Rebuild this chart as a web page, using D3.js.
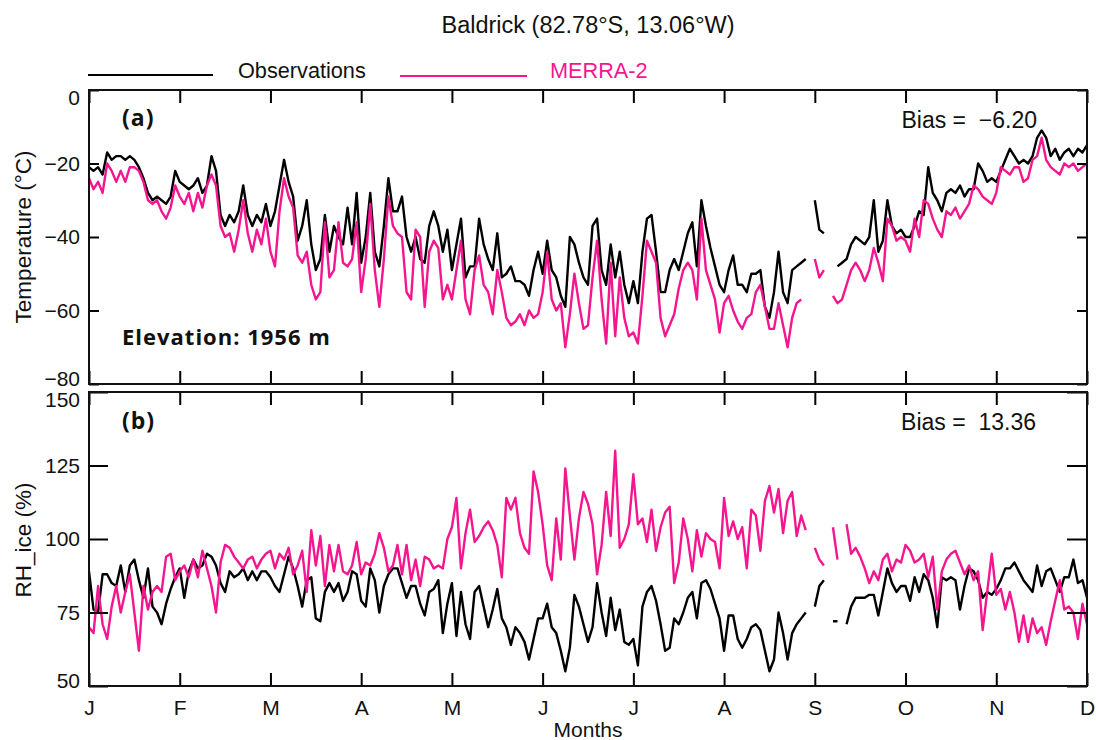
<!DOCTYPE html>
<html>
<head>
<meta charset="utf-8">
<script src="https://cdn.jsdelivr.net/npm/d3@7"></script>
<style>
  body { margin: 0; background: #fff; }
  text { font-family: "Liberation Sans", Arial, sans-serif; }
  .tag { font-family: "Open Sans", Lato, sans-serif; font-weight: bold; fill: #111; letter-spacing: 1px; }
</style>
</head>
<body>
<svg id="chart" width="1096" height="740"></svg>
<script>
// month labels on the x axis (J = Jan ... D = Dec)
const MONTHS = ["J", "F", "M", "A", "M", "J", "J", "A", "S", "O", "N", "D"];
// samples are spaced 1/20 of a month (~1.5 days)
const STEP = 0.05;

const TEMP_TICKS = [0, -20, -40, -60, -80];
const RH_TICKS = [150, 125, 100, 75, 50];

// (a) temperature, degC
const tempObs = [
  -21, -22, -21, -23, -17, -19, -18, -18, -19, -18,
  -19, -21, -24, -28, -30, -29, -30, -31, -29, -22,
  -25, -26, -27, -26, -24, -28, -26, -18, -22, -34,
  -37, -34, -36, -33, -26, -34, -37, -34, -36, -31,
  -37, -33, -26, -19, -25, -29, -41, -37, -30, -42,
  -49, -46, -34, -44, -37, -40, -42, -32, -42, -28,
  -47, -40, -28, -44, -48, -37, -24, -33, -33, -29,
  -40, -44, -40, -46, -47, -37, -33, -37, -44, -38,
  -49, -42, -35, -51, -48, -48, -35, -42, -46, -49,
  -39, -51, -50, -48, -52, -52, -53, -56, -49, -44,
  -50, -41, -49, -51, -56, -59, -40, -42, -47, -51,
  -53, -37, -35, -49, -53, -42, -51, -44, -53, -58,
  -52, -58, -44, -35, -34, -44, -55, -55, -49, -46,
  -49, -44, -39, -36, -48, -30, -37, -43, -48, -53,
  -55, -49, -45, -53, -53, -55, -50, -50, -49, -59,
  -62, -55, -44, -55, -58, -49, -48, -47, -46, null,
  -30, -38, -39, null, null, -48, -47, -46, -42, -40,
  -41, -42, -40, -30, -44, -41, -30, -37, -39, -38,
  -40, -40, -37, -33, -34, -21, -28, -30, -33, -28,
  -27, -28, -26, -29, -27, -27, -20, -22, -25, -24,
  -25, -22, -19, -16, -18, -20, -19, -20, -18, -13,
  -11, -13, -18, -16, -19, -17, -16, -18, -16, -17, -15
];
const tempMerra = [
  -24, -27, -25, -28, -20, -22, -25, -22, -25, -21,
  -21, -22, -25, -30, -31, -30, -33, -35, -32, -26,
  -29, -31, -28, -33, -28, -32, -26, -23, -26, -37,
  -40, -39, -44, -38, -30, -39, -44, -38, -42, -35,
  -44, -48, -33, -24, -29, -32, -45, -47, -44, -53,
  -57, -55, -36, -51, -49, -36, -47, -48, -46, -36,
  -55, -46, -31, -49, -59, -46, -29, -37, -39, -40,
  -55, -57, -38, -40, -59, -44, -41, -43, -57, -53,
  -57, -49, -41, -57, -61, -49, -45, -53, -55, -61,
  -49, -55, -62, -64, -63, -61, -64, -60, -62, -61,
  -55, -44, -57, -60, -58, -70, -61, -50, -58, -65,
  -64, -51, -41, -57, -69, -47, -67, -51, -62, -67,
  -66, -69, -56, -41, -44, -47, -62, -67, -64, -61,
  -54, -49, -47, -49, -57, -35, -49, -53, -57, -66,
  -58, -56, -60, -63, -65, -62, -61, -55, -53, -59,
  -65, -65, -58, -64, -70, -62, -58, -57, null, null,
  -46, -51, -49, null, -56, -58, -57, -53, -49, -47,
  -49, -52, -49, -43, -47, -52, -35, -37, -41, -40,
  -41, -44, -35, -40, -30, -31, -35, -38, -40, -33,
  -34, -32, -35, -33, -31, -26, -27, -29, -30, -31,
  -28, -21, -22, -23, -21, -21, -25, -24, -19, -18,
  -13, -19, -21, -22, -23, -20, -21, -20, -22, -21, -20
];

// (b) relative humidity with respect to ice, %
const rhObs = [
  89, 76, 75, 88, 88, 85, 84, 91, 82, 91,
  93, 86, 80, 90, 77, 75, 71, 78, 83, 87,
  90, 80, 89, 93, 90, 91, 95, 94, 91, 85,
  82, 89, 87, 88, 90, 86, 89, 86, 89, 89,
  87, 84, 82, 88, 94, 90, 84, 77, 86, 87,
  73, 72, 82, 85, 82, 85, 79, 82, 89, 88,
  79, 77, 90, 86, 75, 84, 88, 90, 90, 85,
  80, 84, 84, 78, 74, 82, 83, 86, 68, 78,
  85, 67, 82, 71, 66, 82, 84, 77, 70, 76,
  83, 73, 70, 64, 70, 68, 65, 59, 66, 73,
  73, 78, 70, 68, 62, 55, 63, 81, 77, 71,
  65, 70, 85, 75, 67, 80, 69, 76, 65, 64,
  66, 57, 77, 82, 84, 79, 71, 62, 63, 73,
  71, 75, 80, 82, 73, 85, 86, 83, 78, 73,
  62, 74, 74, 66, 63, 66, 70, 71, 69, 62,
  55, 59, 75, 68, 59, 68, 71, 73, 75, null,
  77, 84, 86, null, 72, 72, null, 71, 77, 80,
  80, 80, 81, 81, 74, 82, 90, 85, 82, 84,
  84, 79, 87, 82, 88, 86, 80, 70, 87, 86,
  87, 86, 76, 84, 90, 89, 86, 80, 82, 81,
  83, 86, 90, 90, 92, 89, 86, 84, 82, 91,
  84, 89, 90, 86, 82, 87, 87, 93, 85, 86, 80
];
const rhMerra = [
  70, 68, 84, 71, 66, 77, 84, 75, 82, 88,
  75, 62, 84, 76, 82, 84, 82, 94, 95, 86,
  89, 91, 87, 93, 87, 96, 90, 84, 75, 92,
  98, 97, 94, 92, 90, 93, 94, 90, 93, 95,
  96, 90, 95, 93, 97, 88, 91, 96, 82, 103,
  91, 101, 84, 98, 89, 98, 89, 88, 91, 99,
  88, 92, 91, 95, 102, 97, 89, 91, 98, 88,
  98, 86, 93, 84, 94, 93, 90, 91, 90, 100,
  104, 114, 90, 102, 110, 99, 101, 104, 106, 103,
  98, 87, 114, 110, 114, 102, 97, 95, 123, 116,
  105, 91, 86, 107, 93, 124, 108, 93, 107, 116,
  112, 105, 88, 98, 116, 101, 130, 97, 100, 105,
  122, 105, 107, 99, 110, 96, 104, 109, 111, 85,
  92, 107, 100, 89, 103, 94, 102, 100, 99, 90,
  114, 101, 106, 100, 104, 90, 110, 108, 96, 113,
  118, 109, 117, 102, 113, 116, 101, 108, 103, null,
  97, 93, 91, null, 104, 93, null, 105, 95, 97,
  94, 90, 85, 89, 86, 93, 95, 89, 93, 92,
  98, 96, 92, 93, 95, 87, 94, 76, 89, 93,
  95, 96, 92, 88, 91, 86, 89, 69, 82, 95,
  81, 83, 76, 82, 75, 65, 74, 65, 73, 68,
  70, 64, 72, 79, 86, 76, 77, 75, 66, 78, 71
];

const OBS_COLOR = "#000";
const MERRA_COLOR = "#f5168f";
const LEFT = 89, RIGHT = 1087;

const svg = d3.select("#chart");

const x = d3.scaleLinear().domain([0, 11]).range([LEFT, RIGHT]);

const drawPanel = (opts) => {
  const { top, bottom, domain, ticks, yTick, obs, merra, labels } = opts;
  const y = d3.scaleLinear().domain(domain).range([bottom, top]);
  const g = svg.append("g");

  const clipId = "clip" + top;
  svg.append("clipPath").attr("id", clipId)
    .append("rect")
    .attr("x", LEFT).attr("y", top)
    .attr("width", RIGHT - LEFT).attr("height", bottom - top);

  const line = d3.line()
    .defined((d) => d != null)
    .x((d, i) => x(i * STEP))
    .y((d) => y(d));

  const lines = g.append("g").attr("clip-path", `url(#${clipId})`);
  lines.append("path").datum(obs)
    .attr("fill", "none").attr("stroke", OBS_COLOR)
    .attr("stroke-width", 2.4).attr("stroke-linejoin", "round")
    .attr("d", line);
  lines.append("path").datum(merra)
    .attr("fill", "none").attr("stroke", MERRA_COLOR)
    .attr("stroke-width", 2.4).attr("stroke-linejoin", "round")
    .attr("d", line);

  const months = d3.range(12);

  const bottomAxis = d3.axisBottom(x).tickValues(months)
    .tickSizeInner(-13).tickSizeOuter(0).tickPadding(14)
    .tickFormat(labels ? (i) => MONTHS[i] : "");
  g.append("g").attr("transform", `translate(0,${bottom})`).call(bottomAxis);

  g.append("g").attr("transform", `translate(0,${top})`)
    .call(d3.axisTop(x).tickValues(months).tickSizeInner(-13).tickSizeOuter(0).tickFormat(""));

  const left = g.append("g").attr("transform", `translate(${LEFT},0)`)
    .call(d3.axisLeft(y).tickValues(ticks).tickSizeInner(-yTick.left).tickSizeOuter(0).tickPadding(9));
  // end labels sit inside the frame like in the original plot
  left.selectAll(".tick text")
    .attr("dy", (d) => (d === domain[1] ? "0.68em" : d === domain[0] ? "0.05em" : "0.32em"));

  g.append("g").attr("transform", `translate(${RIGHT},0)`)
    .call(d3.axisRight(y).tickValues(ticks).tickSizeInner(-yTick.right).tickSizeOuter(0).tickFormat(""));

  g.selectAll(".domain").remove();
  g.selectAll(".tick line").attr("stroke", "#000").attr("stroke-width", 2);
  g.selectAll(".tick text").attr("font-size", 21).attr("fill", "#111")
    .attr("font-family", "'Liberation Sans', Arial, sans-serif");

  g.append("rect")
    .attr("x", LEFT).attr("y", top)
    .attr("width", RIGHT - LEFT).attr("height", bottom - top)
    .attr("fill", "none").attr("stroke", "#111").attr("stroke-width", 2);

  return g;
};

drawPanel({
  top: 90, bottom: 384, domain: [-80, 0], ticks: TEMP_TICKS,
  yTick: { left: 10, right: 10 }, obs: tempObs, merra: tempMerra, labels: false
});
drawPanel({
  top: 392, bottom: 686, domain: [50, 150], ticks: RH_TICKS,
  yTick: { left: 19, right: 20 }, obs: rhObs, merra: rhMerra, labels: true
});

// title and legend
svg.append("text").attr("x", 588).attr("y", 33).attr("text-anchor", "middle")
  .attr("font-size", 23.5).attr("fill", "#111").text("Baldrick (82.78°S, 13.06°W)");

svg.append("line").attr("x1", 88).attr("x2", 213).attr("y1", 75).attr("y2", 75)
  .attr("stroke", OBS_COLOR).attr("stroke-width", 2);
svg.append("text").attr("x", 238).attr("y", 78).attr("font-size", 21.7)
  .attr("fill", "#111").text("Observations");
svg.append("line").attr("x1", 400).attr("x2", 527).attr("y1", 76).attr("y2", 76)
  .attr("stroke", MERRA_COLOR).attr("stroke-width", 2);
svg.append("text").attr("x", 550).attr("y", 78).attr("font-size", 21.7)
  .attr("fill", MERRA_COLOR).text("MERRA-2");

// panel annotations
svg.append("text").attr("class", "tag").attr("x", 122).attr("y", 126)
  .attr("font-size", 23).text("(a)");
svg.append("text").attr("class", "tag").attr("x", 122).attr("y", 345)
  .attr("font-size", 22).text("Elevation: 1956 m");
svg.append("text").attr("class", "tag").attr("x", 122).attr("y", 429)
  .attr("font-size", 23).text("(b)");

svg.append("text").attr("x", 1037).attr("y", 128).attr("text-anchor", "end")
  .attr("font-size", 23).attr("fill", "#111").style("white-space", "pre")
  .text("Bias =  \u22126.20");
svg.append("text").attr("x", 1036).attr("y", 430).attr("text-anchor", "end")
  .attr("font-size", 23).attr("fill", "#111").style("white-space", "pre")
  .text("Bias =  13.36");

// axis titles
svg.append("text").attr("transform", "translate(31,237) rotate(-90)")
  .attr("text-anchor", "middle").attr("font-size", 22.5).attr("fill", "#111")
  .text("Temperature (°C)");
svg.append("text").attr("transform", "translate(31,540) rotate(-90)")
  .attr("text-anchor", "middle").attr("font-size", 22.5).attr("fill", "#111")
  .text("RH_ice (%)");
svg.append("text").attr("x", 588).attr("y", 737).attr("text-anchor", "middle")
  .attr("font-size", 21).attr("fill", "#111").text("Months");
</script>
</body>
</html>
